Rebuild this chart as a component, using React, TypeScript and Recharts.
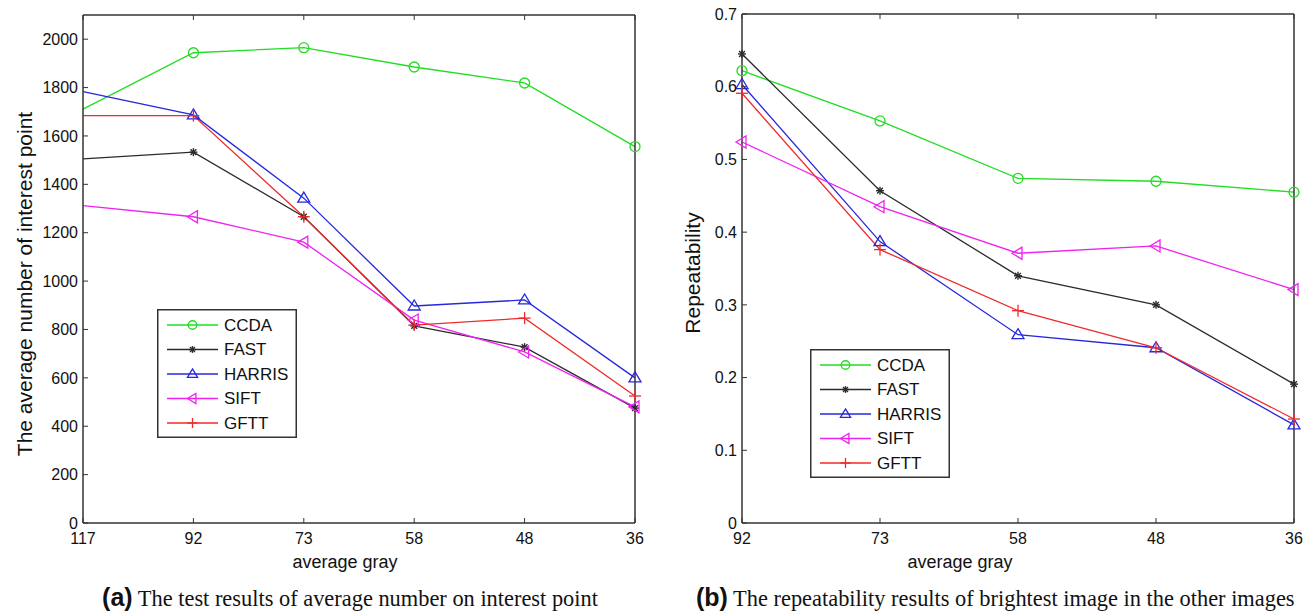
import { LineChart, Line, XAxis, YAxis, Legend, Label } from 'recharts'

// (a) average number of interest points per gray level
const grayA = ['117', '92', '73', '58', '48', '36']
const ccdaA = [1711, 1944, 1965, 1885, 1819, 1556]
const fastA = [1505, 1533, 1266, 815, 727, 475]
const harrisA = [1783, 1687, 1343, 897, 922, 600]
const siftA = [1312, 1266, 1161, 839, 707, 480]
const gfttA = [1684, 1684, 1266, 818, 847, 525]
const countTicks = [0, 200, 400, 600, 800, 1000, 1200, 1400, 1600, 1800, 2000]

// (b) repeatability against the brightest image
const grayB = ['92', '73', '58', '48', '36']
const ccdaB = [0.622, 0.553, 0.474, 0.47, 0.455]
const fastB = [0.645, 0.457, 0.34, 0.3, 0.191]
const harrisB = [0.603, 0.387, 0.259, 0.241, 0.135]
const siftB = [0.524, 0.435, 0.371, 0.381, 0.321]
const gfttB = [0.591, 0.376, 0.292, 0.241, 0.143]
const repTicks = [0, 0.1, 0.2, 0.3, 0.4, 0.5, 0.6, 0.7]

const SANS = '"Liberation Sans", Arial, Helvetica, sans-serif'
const SERIF = '"Liberation Serif", "Times New Roman", serif'
const AXIS = '#333'

type Shape = 'circle' | 'star' | 'triUp' | 'triLeft' | 'plus'

const SERIES: { key: string; color: string; shape: Shape }[] = [
  { key: 'CCDA', color: '#22dd22', shape: 'circle' },
  { key: 'FAST', color: '#2b2b2b', shape: 'star' },
  { key: 'HARRIS', color: '#2727dd', shape: 'triUp' },
  { key: 'SIFT', color: '#f022f0', shape: 'triLeft' },
  { key: 'GFTT', color: '#f02a2a', shape: 'plus' },
]

const tableA = grayA.map((gray, i) => ({
  gray,
  CCDA: ccdaA[i],
  FAST: fastA[i],
  HARRIS: harrisA[i],
  SIFT: siftA[i],
  GFTT: gfttA[i],
}))

const tableB = grayB.map((gray, i) => ({
  gray,
  CCDA: ccdaB[i],
  FAST: fastB[i],
  HARRIS: harrisB[i],
  SIFT: siftB[i],
  GFTT: gfttB[i],
}))

// matlab-style marker glyphs
function Marker({ shape, x, y, color, s = 1 }: { shape: Shape; x: number; y: number; color: string; s?: number }) {
  const common = { stroke: color, strokeWidth: 1.3, fill: 'none' }
  if (shape === 'circle') return <circle cx={x} cy={y} r={5 * s} {...common} />
  if (shape === 'triUp') {
    const pts = `${x},${y - 6 * s} ${x + 6 * s},${y + 4 * s} ${x - 6 * s},${y + 4 * s}`
    return <polygon points={pts} {...common} />
  }
  if (shape === 'triLeft') {
    const pts = `${x - 6 * s},${y} ${x + 4 * s},${y - 6 * s} ${x + 4 * s},${y + 6 * s}`
    return <polygon points={pts} {...common} />
  }
  if (shape === 'plus') {
    const h = 6 * s
    return (
      <g {...common}>
        <line x1={x - h} x2={x + h} y1={y} y2={y} />
        <line x1={x} x2={x} y1={y - h} y2={y + h} />
      </g>
    )
  }
  const h = 4 * s
  const d = 2.9 * s
  return (
    <g {...common} strokeWidth={1.4}>
      <line x1={x - h} x2={x + h} y1={y} y2={y} />
      <line x1={x} x2={x} y1={y - h} y2={y + h} />
      <line x1={x - d} x2={x + d} y1={y - d} y2={y + d} />
      <line x1={x - d} x2={x + d} y1={y + d} y2={y - d} />
    </g>
  )
}

function LegendBox() {
  return (
    <svg width={140} height={129} style={{ display: 'block' }}>
      <rect x={0.75} y={0.75} width={138.5} height={127.5} fill="#fff" stroke={AXIS} strokeWidth={1.5} />
      {SERIES.map((s, i) => {
        const y = 16 + i * 24.5
        return (
          <g key={s.key}>
            <line x1={10} x2={61} y1={y} y2={y} stroke={s.color} strokeWidth={1.3} />
            <Marker shape={s.shape} x={35.5} y={y} color={s.color} s={0.85} />
            <text x={67} y={y} dominantBaseline="central" fontSize={17} fontFamily={SANS} fill="#111">
              {s.key}
            </text>
          </g>
        )
      })}
    </svg>
  )
}

const noTick = () => <g />

interface PanelProps {
  data: Record<string, string | number>[]
  width: number
  height: number
  margin: { top: number; right: number; bottom: number; left: number }
  yTicks: number[]
  yMax: number
  yTitle: string
  yTitlePos: [number, number]
  xTitlePos: [number, number]
  legendPos: [number, number]
  skipFirstMarker?: boolean
}

function Panel(p: PanelProps) {
  const tickStyle = { fontSize: 16, fill: '#111', fontFamily: SANS }
  const axisLine = { stroke: AXIS, strokeWidth: 1.5 }
  return (
    <LineChart width={p.width} height={p.height} data={p.data} margin={p.margin}>
      <XAxis
        dataKey="gray"
        height={30}
        interval={0}
        tick={tickStyle}
        tickSize={-5}
        tickMargin={15}
        axisLine={axisLine}
        tickLine={{ stroke: AXIS }}
      >
        <Label
          content={() => (
            <text
              x={p.xTitlePos[0]}
              y={p.xTitlePos[1]}
              textAnchor="middle"
              dominantBaseline="central"
              fontSize={18}
              fontFamily={SANS}
              fill="#111"
            >
              average gray
            </text>
          )}
        />
      </XAxis>
      <XAxis
        xAxisId="top"
        orientation="top"
        dataKey="gray"
        height={1}
        interval={0}
        tick={noTick}
        tickSize={-5}
        axisLine={axisLine}
        tickLine={{ stroke: AXIS }}
      />
      <YAxis
        width={60}
        type="number"
        domain={[0, p.yMax]}
        ticks={p.yTicks}
        interval={0}
        tick={tickStyle}
        tickFormatter={(v: number) => String(v)}
        tickSize={-5}
        tickMargin={10}
        axisLine={axisLine}
        tickLine={{ stroke: AXIS }}
      >
        <Label
          content={() => (
            <text
              x={p.yTitlePos[0]}
              y={p.yTitlePos[1]}
              transform={`rotate(-90 ${p.yTitlePos[0]} ${p.yTitlePos[1]})`}
              textAnchor="middle"
              dominantBaseline="central"
              fontSize={21}
              fontFamily={SANS}
              fill="#111"
            >
              {p.yTitle}
            </text>
          )}
        />
      </YAxis>
      <YAxis
        yAxisId="right"
        orientation="right"
        width={1}
        type="number"
        domain={[0, p.yMax]}
        ticks={p.yTicks}
        interval={0}
        tick={noTick}
        tickSize={-5}
        axisLine={axisLine}
        tickLine={{ stroke: AXIS }}
      />
      {SERIES.map((s) => (
        <Line
          key={s.key}
          dataKey={s.key}
          type="linear"
          stroke={s.color}
          strokeWidth={1.3}
          isAnimationActive={false}
          activeDot={false}
          dot={(d: any) => (
            <g key={`${s.key}-${d.index}`}>
              {p.skipFirstMarker && d.index === 0 ? null : (
                <Marker shape={s.shape} x={d.cx} y={d.cy} color={s.color} />
              )}
            </g>
          )}
        />
      ))}
      <Legend
        layout="horizontal"
        verticalAlign="middle"
        align="center"
        wrapperStyle={{ left: p.legendPos[0], top: p.legendPos[1], width: 140, height: 129 }}
        content={() => <LegendBox />}
      />
    </LineChart>
  )
}

export default function App() {
  const caption = {
    position: 'absolute' as const,
    top: 583,
    fontFamily: SERIF,
    fontSize: 22.4,
    lineHeight: '28px',
    color: '#111',
    whiteSpace: 'nowrap' as const,
  }
  return (
    <div style={{ position: 'absolute', left: 0, top: 0, width: 1307, height: 611, background: '#fff', overflow: 'hidden' }}>
      <div style={{ position: 'absolute', left: 0, top: 0 }}>
        <Panel
          data={tableA}
          width={660}
          height={580}
          margin={{ top: 14, right: 24, bottom: 27, left: 23 }}
          yTicks={countTicks}
          yMax={2100}
          yTitle="The average number of interest point"
          yTitlePos={[24, 284]}
          xTitlePos={[345, 562]}
          legendPos={[157, 309]}
          skipFirstMarker
        />
      </div>
      <div style={{ position: 'absolute', left: 660, top: 0 }}>
        <Panel
          data={tableB}
          width={647}
          height={580}
          margin={{ top: 13, right: 12, bottom: 27, left: 22 }}
          yTicks={repTicks}
          yMax={0.7}
          yTitle="Repeatability"
          yTitlePos={[32, 273]}
          xTitlePos={[300, 562]}
          legendPos={[150, 349]}
        />
      </div>
      <div style={{ ...caption, left: 0, width: 700, textAlign: 'center' }}>
        <b style={{ fontFamily: SANS, fontSize: 25 }}>(a)</b> The test results of average number on interest point
      </div>
      <div style={{ ...caption, left: 696 }}>
        <b style={{ fontFamily: SANS, fontSize: 25 }}>(b)</b> The repeatability results of brightest image in the other images
      </div>
    </div>
  )
}
